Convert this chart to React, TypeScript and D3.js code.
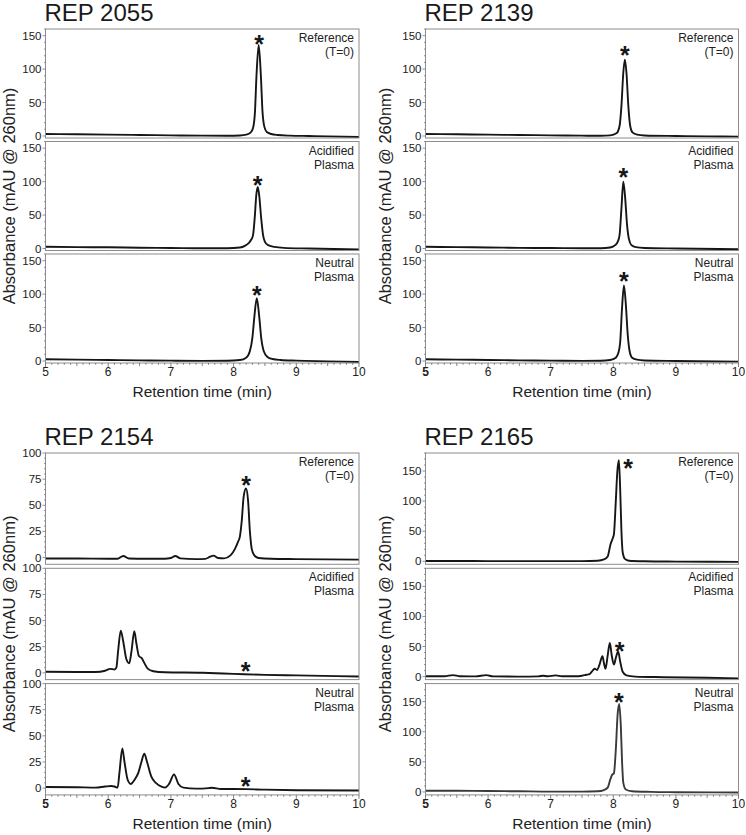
import React from "react";
import * as d3 from "d3";

const FONT = "'Liberation Sans', Arial, Helvetica, sans-serif";

// ---------- data ----------
const xTicks = [5, 6, 7, 8, 9, 10];
const panelLabels = [["Reference", "(T=0)"], ["Acidified", "Plasma"], ["Neutral", "Plasma"]];
const titles = ["REP 2055", "REP 2139", "REP 2154", "REP 2165"];
const yTicksTop = [0, 50, 100, 150];
const yTicksBL = [0, 25, 50, 75, 100];
const yTicksBR = [0, 50, 100, 150];

const rep2055Ref: [number, number][] = [
  [5.0, 3], [5.5, 2.5], [6.0, 2], [6.5, 1.5], [7.0, 1], [7.5, 0.5], [7.9, 0.3], [8.1, 0.8], [8.2, 2],
  [8.27, 5], [8.31, 12], [8.34, 35], [8.365, 90], [8.40, 136], [8.435, 90], [8.46, 38], [8.49, 14],
  [8.53, 6], [8.6, 3], [8.7, 1.5], [8.9, 0.5], [9.2, 0], [9.5, -0.5], [10, -1.5],
];
const rep2055Acid: [number, number][] = [
  [5.0, 2.5], [5.5, 2], [6.0, 1.8], [6.5, 1.2], [7.0, 0.8], [7.5, 0.3], [7.9, 0.3], [8.1, 1.5], [8.18, 4],
  [8.24, 8], [8.28, 13], [8.31, 20], [8.34, 50], [8.36, 78], [8.385, 92], [8.41, 78], [8.44, 45],
  [8.47, 20], [8.5, 10], [8.55, 5], [8.65, 2.5], [8.8, 1], [9.2, 0], [10, -1.5],
];
const rep2055Neu: [number, number][] = [
  [5.0, 2.5], [5.5, 2], [6.0, 1.5], [6.5, 1], [7.0, 0.5], [7.5, 0.2], [7.9, 0.3], [8.1, 1.5], [8.2, 5],
  [8.26, 15], [8.3, 35], [8.33, 65], [8.37, 94], [8.41, 65], [8.44, 35], [8.48, 15], [8.54, 6],
  [8.62, 3], [8.75, 1.5], [9.0, 0.5], [9.5, -0.5], [10, -1.5],
];
const rep2139Ref: [number, number][] = [
  [5.0, 3], [5.5, 2.5], [6.0, 2], [6.5, 1.5], [7.0, 1], [7.5, 0.5], [7.8, 0.3], [7.95, 1], [8.05, 4],
  [8.1, 15], [8.13, 45], [8.16, 95], [8.185, 114], [8.21, 95], [8.24, 45], [8.27, 15], [8.31, 5],
  [8.38, 2], [8.5, 0.8], [9.0, 0], [9.5, -0.5], [10, -1],
];
const rep2139Acid: [number, number][] = [
  [5.0, 2.5], [5.5, 2], [6.0, 1.5], [6.5, 1], [7.0, 0.7], [7.5, 0.3], [7.8, 0.3], [7.95, 1.5], [8.03, 5],
  [8.07, 10], [8.1, 20], [8.13, 60], [8.16, 100], [8.19, 75], [8.22, 35], [8.25, 14], [8.29, 5],
  [8.36, 2], [8.5, 0.8], [9.0, 0], [10, -1],
];
const rep2139Neu: [number, number][] = [
  [5.0, 2.5], [5.5, 2], [6.0, 1.5], [6.5, 1], [7.0, 0.5], [7.5, 0.2], [7.8, 0.3], [7.95, 1.5], [8.04, 5],
  [8.08, 12], [8.11, 28], [8.14, 80], [8.17, 113], [8.2, 85], [8.23, 40], [8.26, 15], [8.3, 5],
  [8.38, 2], [8.5, 0.8], [9.0, 0], [10, -1],
];
const rep2154Ref: [number, number][] = [
  [5.0, -1], [5.5, -1], [6.0, -1.2], [6.15, -1.2], [6.24, 1.5], [6.33, -1], [6.6, -1.2], [6.9, -1.2],
  [7.0, -0.5], [7.07, 1.5], [7.15, -0.8], [7.4, -1.5], [7.55, -1.3], [7.62, 0.5], [7.68, 1.8],
  [7.75, -0.5], [7.85, -0.8], [7.95, 2], [8.02, 8], [8.07, 15], [8.1, 20], [8.13, 35], [8.16, 58],
  [8.198, 66], [8.23, 55], [8.26, 25], [8.29, 8], [8.33, 2], [8.4, -0.5], [8.6, -1.2], [9.0, -1.5], [10, -2],
];
const rep2154Acid: [number, number][] = [
  [5.0, 1], [5.5, 0.8], [5.8, 0.8], [5.95, 2], [6.03, 3.8], [6.1, 3.2], [6.13, 5], [6.16, 22],
  [6.2, 40.4], [6.24, 30], [6.29, 13], [6.336, 9.2], [6.37, 20], [6.416, 39.8], [6.45, 28], [6.49, 16],
  [6.534, 14], [6.58, 9], [6.63, 4], [6.72, 1.5], [6.9, 0.5], [7.5, 0], [8.0, -1], [8.5, -2], [9.0, -2.5], [10, -3.5],
];
const rep2154Neu: [number, number][] = [
  [5.0, 1], [5.5, 0.8], [5.8, 0.5], [5.95, 1.5], [6.05, 2], [6.1, 1.5], [6.15, 0.5], [6.18, 15],
  [6.225, 38], [6.26, 25], [6.31, 8], [6.36, 4], [6.42, 8], [6.48, 14.6], [6.53, 25], [6.576, 33],
  [6.62, 25], [6.69, 10.7], [6.76, 5], [6.85, 1.5], [6.906, 0.6], [6.97, 4], [7.05, 13], [7.12, 4],
  [7.2, 0.5], [7.4, -0.5], [7.6, 0], [7.65, 0.3], [7.8, -0.8], [8.2, -1], [8.5, -1.5], [9.0, -2], [10, -2.3],
];
const rep2165Ref: [number, number][] = [
  [5.0, 0.5], [5.5, 0.5], [6.0, 0.3], [6.5, 0.2], [7.0, 0.2], [7.5, 0.2], [7.75, 0.8], [7.85, 3],
  [7.91, 8], [7.955, 28], [7.99, 38], [8.01, 45], [8.04, 100], [8.065, 150], [8.089, 168], [8.11, 120],
  [8.13, 50], [8.15, 15], [8.185, 4], [8.25, 1], [8.5, 0], [9.0, -0.5], [10, -1],
];
const rep2165Acid: [number, number][] = [
  [5.0, 0.5], [5.3, 0.5], [5.44, 2.5], [5.55, 0.5], [5.8, 0.3], [5.97, 2.5], [6.08, 0.3], [6.5, 0],
  [6.8, 0.3], [6.88, 1.5], [6.95, 0.5], [7.08, 2], [7.18, 0.5], [7.4, 0.5], [7.5, 1.5], [7.57, 3],
  [7.62, 4], [7.67, 10], [7.705, 13], [7.74, 11], [7.78, 20], [7.827, 34], [7.855, 20], [7.875, 13],
  [7.91, 35], [7.945, 56], [7.975, 35], [8.01, 20], [8.045, 33], [8.078, 41.6], [8.11, 25], [8.15, 8],
  [8.21, 2], [8.35, 0], [8.8, -1], [9.5, -2], [10, -3],
];
const rep2165Neu: [number, number][] = [
  [5.0, 2], [5.5, 1.8], [6.0, 1.5], [6.5, 1], [7.0, 0.5], [7.5, 0.5], [7.75, 1], [7.85, 3], [7.91, 7],
  [7.95, 20], [7.98, 28], [8.01, 31], [8.04, 70], [8.07, 130], [8.094, 146], [8.12, 110], [8.14, 50],
  [8.16, 15], [8.2, 4], [8.3, 1], [8.6, 0], [9.0, -0.5], [10, -1],
];

// asterisk marker centres (time, absorbance)
const stars2055: [number, number][] = [[8.405, 146], [8.385, 104], [8.37, 108]];
const stars2139: [number, number][] = [[8.185, 130], [8.16, 116], [8.17, 129]];
const stars2154: [number, number][] = [[8.198, 75], [8.19, 7], [8.19, 7.4]];
const stars2165: [number, number][] = [[8.235, 165], [8.1, 53], [8.09, 160]];

// ---------- chart ----------
type ChartProps = {
  title: string;
  x0: number; x1: number; top: number; panelH: number; gap: number;
  yDomain: [number, number]; yTicks: number[]; yMinor: number;
  traces: [number, number][][]; stars: [number, number][];
  boldFive: boolean; yTitleX: number; traceColors?: string[];
};

function Chart(p: ChartProps) {
  const x = d3.scaleLinear().domain([5, 10]).range([p.x0, p.x1]);
  const bottom = p.top + 3 * p.panelH + 2 * p.gap;
  const minorX = d3.range(50, 101).map((i) => i / 10);
  const minorY = d3.range(0, p.yDomain[1] + 0.001, p.yMinor);
  const uid = p.title.replace(/\s/g, "");
  return (
    <g>
      <text x={p.x0 - 1} y={p.top - 8} fontSize={24} fontFamily={FONT} fill="#1a1a1a">{p.title}</text>
      {p.traces.map((tr, i) => {
        const pt = p.top + i * (p.panelH + p.gap);
        const y = d3.scaleLinear().domain(p.yDomain).range([pt + p.panelH, pt]);
        const line = d3.line<[number, number]>().x((d) => x(d[0])).y((d) => y(d[1])).curve(d3.curveMonotoneX);
        const star = p.stars[i];
        const fs = 25;
        return (
          <g key={i}>
            <clipPath id={`c-${uid}-${i}`}>
              <rect x={p.x0} y={pt} width={p.x1 - p.x0} height={p.panelH} />
            </clipPath>
            <path d={line(tr) || ""} fill="none" stroke={p.traceColors ? p.traceColors[i] : "#161616"} strokeWidth={1.9}
              strokeLinejoin="round" clipPath={`url(#c-${uid}-${i})`} />
            <rect x={p.x0} y={pt} width={p.x1 - p.x0} height={p.panelH} fill="none" stroke="#8c8c8c" strokeWidth={1} />
            {minorY.map((v) => (
              <line key={"m" + v} x1={p.x0 - (p.yTicks.includes(v) ? 3 : 1.5)} x2={p.x0} y1={y(v)} y2={y(v)} stroke="#777" strokeWidth={0.8} />
            ))}
            {p.yTicks.map((v) => (
              <text key={"t" + v} x={p.x0 - 4} y={y(v)} dy="0.35em" textAnchor="end" fontSize={11.5} fontFamily={FONT} fill="#222">{v}</text>
            ))}
            <text x={p.x1 - 5} y={pt + 13} textAnchor="end" fontSize={12} fontFamily={FONT} fill="#222">{panelLabels[i][0]}</text>
            <text x={p.x1 - 5} y={pt + 27} textAnchor="end" fontSize={12} fontFamily={FONT} fill="#222">{panelLabels[i][1]}</text>
            <text x={x(star[0])} y={y(star[1]) + 0.6 * fs} textAnchor="middle" fontSize={fs} fontWeight="bold" fontFamily={FONT} fill="#161616">*</text>
          </g>
        );
      })}
      {minorX.map((v, k) => {
        const isMaj = Math.abs(v - Math.round(v)) < 1e-6;
        const isHalf = !isMaj && Math.abs(v * 2 - Math.round(v * 2)) < 1e-6;
        const len = isMaj ? 4 : isHalf ? 3 : 1.8;
        return <line key={"x" + k} x1={x(v)} x2={x(v)} y1={bottom} y2={bottom + len} stroke="#666" strokeWidth={0.8} />;
      })}
      {xTicks.map((v) => (
        <text key={"xt" + v} x={x(v)} y={bottom + 13} textAnchor="middle" fontSize={12} fontFamily={FONT} fill="#222"
          fontWeight={v === 5 && p.boldFive ? "bold" : "normal"}>{v}</text>
      ))}
      <text x={(p.x0 + p.x1) / 2} y={bottom + 34} textAnchor="middle" fontSize={15.5} fontFamily={FONT} fill="#222">Retention time (min)</text>
      <text transform={`translate(${p.yTitleX},${(p.top + bottom) / 2}) rotate(-90)`} textAnchor="middle" fontSize={16.5} fontFamily={FONT} fill="#222">
        Absorbance (mAU @ 260nm)
      </text>
    </g>
  );
}

export default function App() {
  return (
    <svg width={746} height={835} style={{ position: "absolute", left: 0, top: 0, background: "#fff" }}>
      <rect x={0} y={0} width={746} height={835} fill="#fff" />
      <Chart title={titles[0]} x0={45.5} x1={359} top={29} panelH={109} gap={3.5} yDomain={[-3, 160]}
        yTicks={yTicksTop} yMinor={10} traces={[rep2055Ref, rep2055Acid, rep2055Neu]} stars={stars2055}
        boldFive={false} yTitleX={15} />
      <Chart title={titles[1]} x0={425.5} x1={738.5} top={29} panelH={109} gap={3.5} yDomain={[-3, 160]}
        yTicks={yTicksTop} yMinor={10} traces={[rep2139Ref, rep2139Acid, rep2139Neu]} stars={stars2139}
        boldFive={true} yTitleX={391} />
      <Chart title={titles[2]} x0={45.5} x1={359} top={453} panelH={111.3} gap={4} yDomain={[-6.5, 100]}
        yTicks={yTicksBL} yMinor={5} traces={[rep2154Ref, rep2154Acid, rep2154Neu]} stars={stars2154}
        boldFive={true} yTitleX={15} />
      <Chart title={titles[3]} x0={425.5} x1={738.5} top={453} panelH={111.3} gap={4} yDomain={[-5, 180]}
        yTicks={yTicksBR} yMinor={10} traces={[rep2165Ref, rep2165Acid, rep2165Neu]} stars={stars2165}
        boldFive={true} yTitleX={391} traceColors={["#161616", "#161616", "#3a3a3a"]} />
    </svg>
  );
}
